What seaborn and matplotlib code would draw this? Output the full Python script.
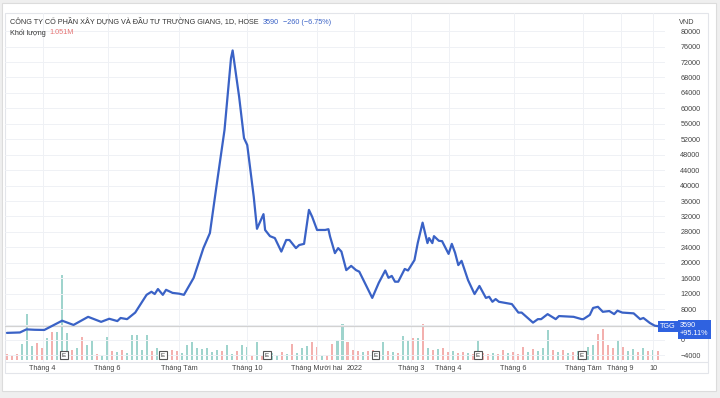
import numpy as np
import pandas as pd
import matplotlib
matplotlib.use("Agg")
import matplotlib.pyplot as plt
import matplotlib.transforms as mtransforms
from matplotlib.patches import Rectangle
import seaborn as sns

# Daily close (VND) at the turning points
dates = ["2021-03-02", "2021-03-12", "2021-03-18", "2021-03-25", "2021-04-02", "2021-04-19",
         "2021-04-29", "2021-05-14", "2021-05-26", "2021-06-02", "2021-06-09", "2021-06-11",
         "2021-06-17", "2021-06-24", "2021-07-05", "2021-07-08", "2021-07-12", "2021-07-14",
         "2021-07-19", "2021-07-21", "2021-07-27", "2021-08-02", "2021-08-05", "2021-08-13",
         "2021-08-23", "2021-08-27", "2021-09-06", "2021-09-13", "2021-09-17", "2021-09-20",
         "2021-09-24", "2021-09-29", "2021-10-01", "2021-10-07", "2021-10-11", "2021-10-15",
         "2021-10-18", "2021-10-21", "2021-10-26", "2021-11-01", "2021-11-04", "2021-11-08",
         "2021-11-12", "2021-11-16", "2021-11-19", "2021-11-24", "2021-11-26", "2021-12-01",
         "2021-12-03", "2021-12-08", "2021-12-10", "2021-12-13", "2021-12-16", "2021-12-20",
         "2021-12-22", "2021-12-27", "2021-12-30", "2022-01-05", "2022-01-07", "2022-01-19",
         "2022-01-25", "2022-02-07", "2022-02-09", "2022-02-11", "2022-02-15", "2022-02-17",
         "2022-02-23", "2022-02-25", "2022-03-03", "2022-03-07", "2022-03-10", "2022-03-15",
         "2022-03-16", "2022-03-18", "2022-03-21", "2022-03-24", "2022-03-28", "2022-04-01",
         "2022-04-05", "2022-04-07", "2022-04-12", "2022-04-14", "2022-04-20", "2022-04-26",
         "2022-04-29", "2022-05-09", "2022-05-11", "2022-05-13", "2022-05-17", "2022-05-19",
         "2022-05-25", "2022-05-31", "2022-06-06", "2022-06-08", "2022-06-17", "2022-06-22",
         "2022-06-24", "2022-06-30", "2022-07-07", "2022-07-11", "2022-07-22", "2022-07-29",
         "2022-08-01", "2022-08-05", "2022-08-09", "2022-08-12", "2022-08-17", "2022-08-23",
         "2022-08-26", "2022-08-30", "2022-09-06", "2022-09-15", "2022-09-21", "2022-09-23",
         "2022-09-29", "2022-10-04", "2022-10-06"]
close = [1840, 1950, 2750, 2650, 2600, 5000,
         3900, 6000, 4700, 5500, 4900, 5700,
         5400, 7100, 11700, 12500, 11900, 13200,
         11700, 13000, 12200, 12000, 11700, 16100,
         23800, 27700, 39700, 54400, 73000, 75000,
         63000, 52300, 50500, 37100, 28800, 32600,
         28500, 26900, 26400, 22900, 25900, 25900,
         23800, 24600, 24900, 33700, 31900, 28500,
         28500, 28500, 28700, 26800, 22500, 23800,
         22900, 18100, 19200, 18100, 17700, 10900,
         14800, 18000, 16100, 16600, 15100, 15100,
         18400, 18000, 20700, 25100, 30400, 25100,
         26400, 25100, 26900, 25700, 25600, 22300,
         24900, 22600, 19400, 20500, 15500, 11900,
         14000, 10900, 11200, 9900, 10600, 9900,
         9600, 9300, 7100, 7100, 4500, 5400,
         5400, 6700, 5400, 6200, 6000, 5400,
         5400, 6500, 8300, 8600, 7300, 7500,
         6700, 7600, 7100, 6900, 5400, 5700,
         4400, 3700, 3590]

# volume (million shares), spread evenly over the period; u = up day, d = down day
volume_m = [0.70, 0.59, 0.70, 1.87, 5.38, 1.64, 1.99, 1.40, 2.57, 3.28,
            3.28, 9.95, 3.16, 1.17, 1.40, 2.69, 1.76, 2.34, 0.70, 0.59,
            2.69, 1.05, 0.94, 1.17, 0.82, 2.93, 2.93, 1.17, 2.93, 1.05,
            1.40, 0.94, 0.70, 1.17, 1.05, 0.82, 1.76, 2.11, 1.40, 1.29,
            1.40, 0.94, 1.17, 1.05, 1.76, 0.70, 1.05, 1.76, 1.52, 0.47,
            2.11, 0.59, 0.70, 0.82, 0.59, 0.94, 0.70, 1.87, 0.82, 1.40,
            1.64, 2.11, 1.52, 0.47, 0.59, 1.87, 2.34, 4.21, 2.11, 1.17,
            1.05, 0.94, 1.05, 1.17, 0.94, 2.11, 1.05, 0.94, 0.82, 2.81,
            2.34, 2.57, 2.57, 4.21, 1.40, 1.17, 1.29, 1.40, 0.94, 1.05,
            0.82, 0.94, 0.82, 0.70, 2.34, 0.82, 0.70, 0.82, 0.70, 1.17,
            0.82, 0.94, 0.70, 1.52, 0.94, 1.29, 1.05, 1.40, 3.51, 1.17,
            0.94, 1.17, 0.82, 0.94, 1.05, 0.82, 1.52, 1.76, 3.04, 3.63,
            1.76, 1.40, 2.34, 1.52, 1.05, 1.29, 0.94, 1.40, 1.05, 1.17,
            1.05]
volume_dir = ("ddduuuddud" "uuududuudu" "ududuuuuud" "uuddduuuuu" "uuuduuduud"
              "udduududuu" "uddudduudd" "dudduududu" "ududududdu" "ddududdudd"
              "uddduduuud" "udududuudd" "dduduududu" "d")

earnings = ["2021-04-20", "2021-07-19", "2021-10-19", "2022-01-21", "2022-04-28", "2022-07-29"]

month_ticks = ["2021-04-01", "2021-06-01", "2021-08-01", "2021-10-01", "2021-12-01", "2022-01-01",
               "2022-03-01", "2022-04-01", "2022-06-01", "2022-08-01", "2022-09-01", "2022-10-01"]
month_labels = ["Tháng 4", "Tháng 6", "Tháng Tám", "Tháng 10", "Tháng Mười hai", "2022",
                "Tháng 3", "Tháng 4", "Tháng 6", "Tháng Tám", "Tháng 9", "10"]
price_ticks = list(range(-4000, 80001, 4000))

# HOSE closed days -> trading-day axis like the original
holidays = ["2021-04-21", "2021-04-30", "2021-05-03", "2021-09-02", "2021-09-03",
            "2022-01-03", "2022-01-31", "2022-02-01", "2022-02-02", "2022-02-03", "2022-02-04",
            "2022-04-11", "2022-05-02", "2022-05-03", "2022-09-01", "2022-09-02"]

start = dates[0]
xpos = np.busday_count(start, dates, holidays=holidays)
df = pd.DataFrame({"x": xpos, "close": close})
vol_x = np.linspace(0, xpos[-1], len(volume_m))
vol_colors = ["#9fd4cd" if c == "u" else "#f3b0ae" for c in volume_dir]
tick_x = np.busday_count(start, month_ticks, holidays=holidays)
earn_x = np.busday_count(start, earnings, holidays=holidays)

sns.set_theme(style="white")
plt.rcParams["font.family"] = ["Liberation Sans", "DejaVu Sans"]

W, H = 720, 398
fig = plt.figure(figsize=(W / 100, H / 100), dpi=100)
fig.patch.set_facecolor("#efefef")
fig.patches.append(Rectangle((2 / W, 1 - 391 / H), 714 / W, 388 / H, transform=fig.transFigure,
                             fc="white", ec="#dcdcdc", lw=0.8, zorder=-10))
fig.patches.append(Rectangle((5 / W, 1 - 373 / H), 703 / W, 360 / H, transform=fig.transFigure,
                             fill=False, ec="#e3e5ea", lw=0.8, zorder=-5))

ax = fig.add_axes([5 / W, 1 - 362 / H, 660 / W, 349 / H])
ax2 = ax.twinx()
ax.set_zorder(ax2.get_zorder() + 1)
ax.patch.set_visible(False)
ax2.patch.set_facecolor("white")

# volume pane
ax2.bar(vol_x, volume_m, width=1.25, color=vol_colors, linewidth=0)
ax2.set_ylim(-0.23, 40.6)
ax2.set_yticks([])
for s in ax2.spines.values():
    s.set_visible(False)

# price line
ax.axhline(close[-1], color="#d2d2d2", lw=0.9, zorder=1)
sns.lineplot(data=df, x="x", y="close", ax=ax, color="#3a62c6", linewidth=1.6, zorder=3)

ax.set_xlim(-1.2, xpos[-1] + 4.3)
ax.set_ylim(-5700, 84700)
ax.set_yticks(price_ticks)
ax.set_yticklabels([str(t).replace("-", "\u2212") if t != 4000 else "" for t in price_ticks])
ax.yaxis.tick_right()
ax.set_xticks(tick_x)
ax.set_xticklabels(month_labels)
ax.tick_params(axis="y", length=0, pad=11, labelsize=5.2, labelcolor="#444")
ax.tick_params(axis="x", length=0, pad=2.5, labelsize=5.2, labelcolor="#444")
ax.grid(True, color="#eff1f5", lw=0.7)
ax.set_xlabel("")
ax.set_ylabel("")
for s in ax.spines.values():
    s.set_visible(False)

# earnings markers
trans = mtransforms.blended_transform_factory(ax.transData, ax.transAxes)
for ex in earn_x:
    ax.text(ex, 0.02, "E", transform=trans, ha="center", va="center", fontsize=4.5, color="#333",
            bbox=dict(boxstyle="square,pad=0.3", fc="white", ec="#555", lw=0.8), zorder=5)

# separator between pane and time axis
fig.add_artist(plt.Line2D([5 / W, 708 / W], [1 - 362 / H, 1 - 362 / H], transform=fig.transFigure,
                          color="#e3e5ea", lw=0.8))

# legend texts (chained left to right)
renderer = fig.canvas.get_renderer()
def chain(parts, x0, y):
    x = x0 / W
    for txt, col in parts:
        t = fig.text(x, 1 - y / H, txt, fontsize=5.2, color=col, va="center", ha="left")
        bb = t.get_window_extent(renderer=renderer)
        x = (bb.x1 + 4) / W

chain([("CÔNG TY CỔ PHẦN XÂY DỰNG VÀ ĐẦU TƯ TRƯỜNG GIANG, 1D, HOSE", "#333333"),
       ("3590", "#3a62c6"), ("\u2212260 (\u22126.75%)", "#3a62c6")], 10, 22)
chain([("Khối lượng", "#333333"), ("1.051M", "#e57373")], 10, 33)
fig.text(679 / W, 1 - 22 / H, "VND", fontsize=5.2, color="#444", va="center", ha="left")

# last-price labels on the scale
fig.text(668 / W, 1 - 326.5 / H, "TGG", fontsize=5.2, color="white", ha="center", va="center",
         bbox=dict(boxstyle="square,pad=0.25", fc="#2f62e0", ec="none"))
fig.text(680 / W, 1 - 329.5 / H, "3590\n+95.11%", fontsize=5.2, color="white", ha="left",
         va="center", linespacing=1.1,
         bbox=dict(boxstyle="square,pad=0.3", fc="#2f62e0", ec="none"))

fig.savefig("out.png", dpi=100, facecolor=fig.get_facecolor())
